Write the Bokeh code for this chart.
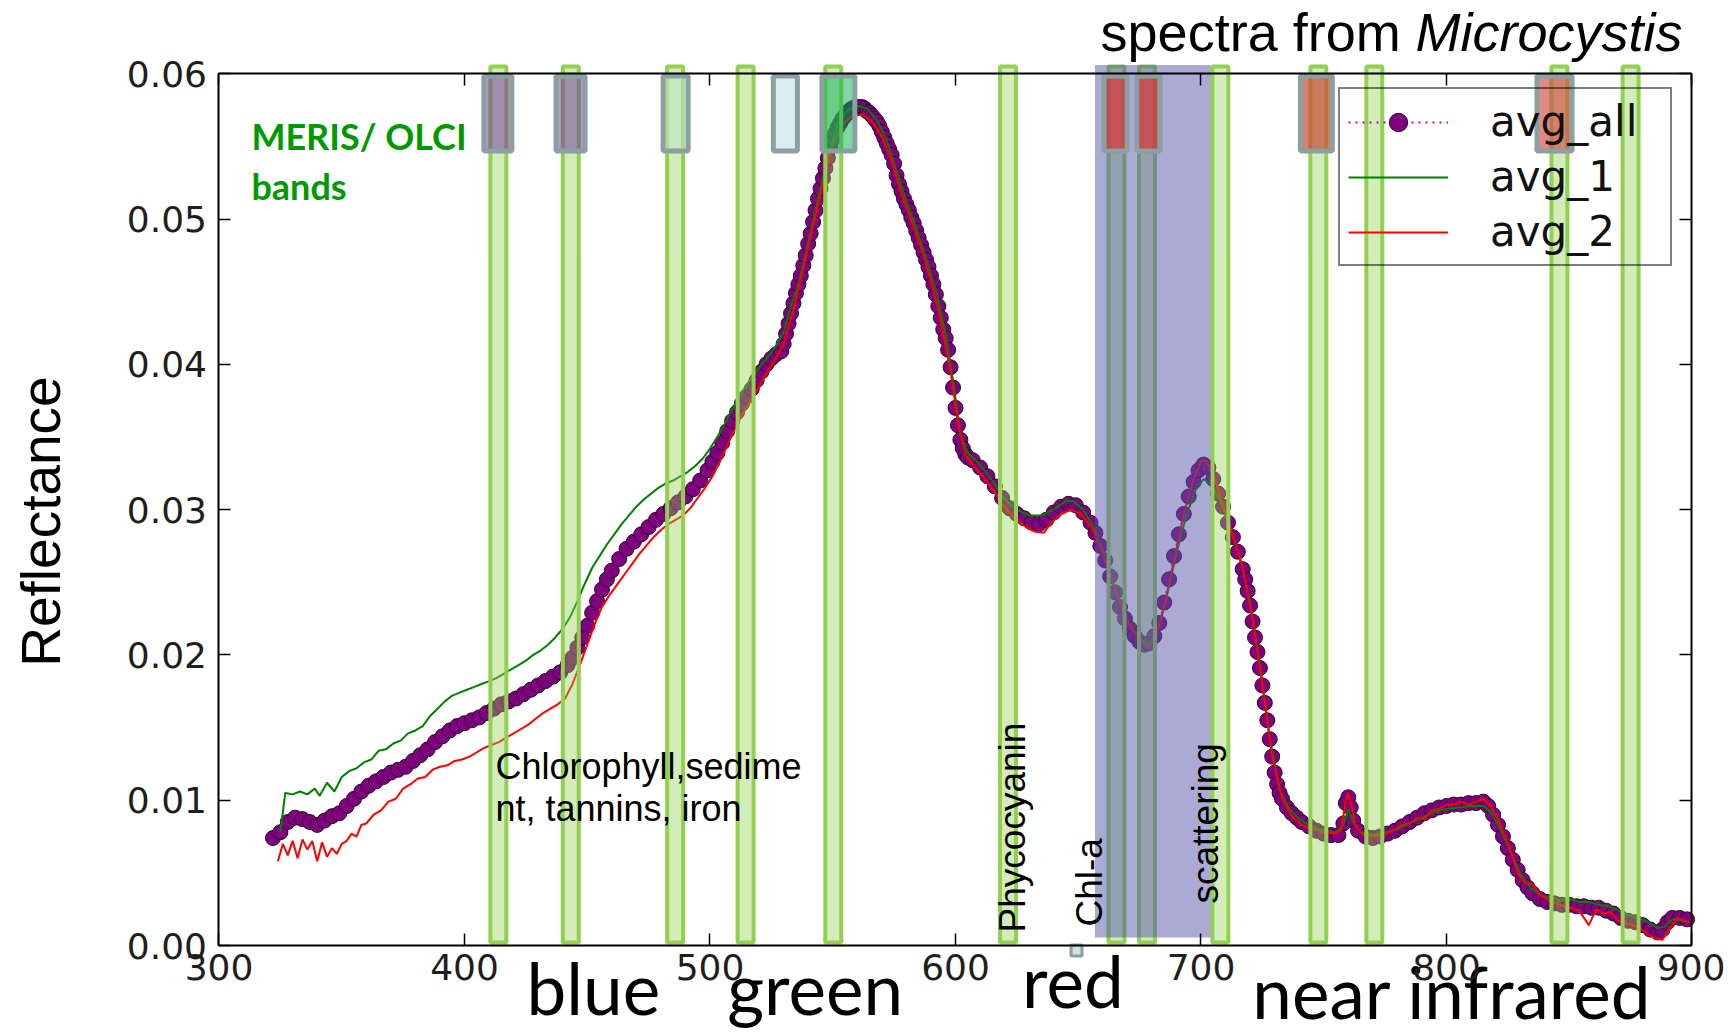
import math
from bokeh.plotting import figure
from bokeh.models import (Range1d, LinearAxis, FixedTicker, PrintfTickFormatter,
                          Legend, LegendItem)
from bokeh.core.properties import value
from bokeh.embed import file_html
from bokeh.resources import INLINE

# ---------------- data ----------------
WL_ALL = [322, 325, 328, 331, 334, 337, 340, 343, 346, 349, 352, 355, 358, 361, 364, 367, 370, 373, 376, 379,
          382, 385, 388, 391, 394, 397, 400, 403, 406, 409, 412, 415, 418, 421, 424, 427, 430, 433, 436, 439,
          442, 444, 446, 448, 450, 452, 454, 456, 458, 460, 463, 466, 469, 472, 475, 478, 481, 484, 487, 490,
          493, 496, 499, 501, 503, 505, 507, 509, 511, 513, 515, 517, 519, 521, 523, 525, 527, 529,
          530, 531, 532, 533, 534, 535, 536, 537, 538, 539, 540, 541, 542, 543, 544, 545, 546, 547, 548, 549,
          550, 551, 552, 553, 554, 555, 556, 557, 558, 559, 560, 561, 562, 563, 564, 565, 566, 567, 568, 569,
          570, 571, 572, 573, 574, 575, 576, 577, 578, 579, 580, 581, 582, 583, 584, 585, 586, 587, 588, 589,
          590, 591, 592, 593, 594, 595, 596, 597, 598, 599, 600, 601, 602, 603, 604, 605,
          607, 610, 613, 616, 619, 622, 625, 628, 631, 634, 637, 640, 643, 646, 649, 652, 655,
          657, 659, 661, 663, 665, 667, 669, 671, 673, 675, 677, 679, 681, 683, 685, 687, 689, 691, 693, 695,
          697, 699, 701, 703, 705, 707, 709, 711, 713, 715, 717, 718, 719, 720, 721, 722, 723, 724, 725, 726,
          727, 728, 729, 730, 731, 732, 733, 735, 737, 739, 741, 744, 747, 750, 753, 756, 758, 759, 760, 761,
          762, 764, 767, 770, 773, 776, 779, 782, 785, 788, 791, 794, 797, 800, 803, 806, 809, 812, 815, 817,
          819, 821, 823, 825, 827, 829, 831, 833, 835, 838, 841, 844, 847, 850, 853, 856, 859, 862, 865, 868,
          871, 874, 877, 880, 883, 886, 888, 890, 892, 895, 898]
REFL_ALL = [.0074, .0078, .0085, .0088, .0087, .0085, .0083, .0086, .0089, .0091, .0096, .0101, .0106, .0110, .0113,
            .0116, .0119, .0121, .0123, .0127, .0131, .0135, .0140, .0144, .0148, .0151, .0153, .0155, .0157, .0160,
            .0163, .0166, .0168, .0170, .0173, .0176, .0179, .0182, .0185, .0188, .0193, .0198, .0205, .0212, .0220,
            .0229, .0237, .0245, .0252, .0258, .0266, .0273, .0278, .0283, .0288, .0293, .0297, .0301, .0305, .0309,
            .0314, .0320, .0327, .0333, .0339, .0346, .0354, .0361, .0367, .0373, .0378, .0383, .0389, .0395, .0400,
            .0404, .0407, .0409,
            .0414, .0421, .0428, .0435, .0442, .0449, .0455, .0461, .0468, .0475, .0483, .0490, .0498, .0506, .0514,
            .0521, .0528, .0535, .0542, .0549, .0555, .0559, .0563, .0566, .0569, .0571, .0573, .0575, .0576, .0577,
            .0577, .0577, .0577, .0576, .0574, .0573, .0571, .0569, .0567, .0564, .0560, .0556, .0552, .0548, .0544,
            .0538, .0530, .0524, .0519, .0514, .0510, .0506, .0501, .0497, .0492, .0487, .0482, .0477, .0472, .0467,
            .0461, .0455, .0448, .0440, .0432, .0424, .0418, .0410, .0398, .0384, .0370, .0358, .0348, .0342, .0338,
            .0336,
            .0334, .0329, .0323, .0316, .0308, .0301, .0297, .0294, .0291, .0290, .0293, .0298, .0302, .0304, .0303,
            .0298, .0291,
            .0284, .0275, .0265, .0254, .0243, .0233, .0225, .0218, .0213, .0209, .0207, .0208, .0213, .0222, .0236,
            .0252, .0268, .0283, .0297, .0309, .0319, .0327, .0331, .0329, .0321, .0311, .0302, .0291, .0281, .0271,
            .0259, .0252, .0244, .0234, .0223, .0212, .0202, .0191, .0179, .0167, .0155, .0142, .0130, .0119, .0111,
            .0105, .0101, .0095, .0091, .0088, .0085, .0082, .0079, .0077, .0076, .0076, .0084, .0098, .0102, .0095,
            .0086, .0079, .0075, .0074, .0075, .0077, .0079, .0082, .0085, .0088, .0091, .0093, .0095, .0096, .0097,
            .0097, .0098, .0098, .0099, .0096, .0090, .0083, .0075, .0067, .0059, .0052, .0045, .0040, .0036, .0032,
            .0030, .0029, .0028, .0028, .0027, .0027, .0026, .0026, .0024, .0022, .0019, .0017, .0016, .0014, .0011,
            .0009, .0011, .0016, .0019, .0019, .0018]

WL_1 = [325, 327, 330, 333, 336, 339, 341, 344, 347, 350, 353, 356, 359, 362, 365, 368, 371, 374, 377, 380,
        383, 386, 389, 392, 395, 398, 401, 404, 407, 410, 413, 416, 419, 422, 425, 428, 431, 434, 437, 440,
        443, 446, 449, 452, 455, 458, 461, 464, 467, 470, 473, 476, 479, 482, 485, 488, 491, 494, 497, 500,
        503, 506, 509, 512, 515, 518, 521, 524, 527, 530, 533, 536, 540, 544, 548, 552, 556, 560, 564, 568,
        572, 576, 580, 584, 588, 592, 596, 599, 602, 605, 610, 615, 620, 625, 630, 635, 640, 645, 648, 652,
        656, 660, 664, 668, 672, 676, 679, 682, 686, 690, 694, 698, 701, 704, 708, 712, 716, 720, 724, 728,
        732, 736, 740, 745, 750, 755, 758, 760, 762, 765, 770, 775, 780, 785, 790, 795, 800, 805, 810, 815,
        818, 822, 826, 830, 834, 838, 842, 846, 850, 854, 858, 862, 866, 870, 874, 878, 882, 886, 889, 892,
        896, 899]
REFL_1 = [.0078, .0105, .0104, .0106, .0104, .0108, .0103, .0112, .0106, .0116, .0120, .0122, .0126, .0128, .0134,
          .0135, .0139, .0141, .0146, .0148, .0151, .0158, .0163, .0168, .0172, .0174, .0176, .0178, .0180, .0182,
          .0184, .0187, .0190, .0193, .0196, .0200, .0203, .0207, .0212, .0218, .0226, .0237, .0249, .0260, .0268,
          .0276, .0283, .0290, .0296, .0302, .0307, .0311, .0315, .0318, .0320, .0323, .0326, .0330, .0335, .0342,
          .0350, .0359, .0369, .0378, .0386, .0393, .0400, .0406, .0413, .0422, .0440, .0455, .0484, .0514, .0543,
          .0565, .0575, .0578, .0576, .0568, .0554, .0533, .0512, .0494, .0473, .0451, .0421, .0389, .0352, .0339,
          .0331, .0320, .0307, .0300, .0296, .0296, .0300, .0306, .0306, .0300, .0289, .0272, .0250, .0232, .0218,
          .0210, .0208, .0214, .0240, .0270, .0296, .0314, .0321, .0318, .0305, .0287, .0266, .0237, .0193, .0143,
          .0107, .0094, .0087, .0082, .0079, .0078, .0083, .0094, .0085, .0078, .0076, .0078, .0080, .0084, .0088,
          .0092, .0094, .0095, .0096, .0096, .0092, .0080, .0065, .0050, .0040, .0035, .0033, .0031, .0032, .0030,
          .0030, .0028, .0027, .0024, .0021, .0019, .0016, .0012, .0013, .0018, .0017, .0016]

WL_2 = [324, 326, 328, 330, 332, 334, 336, 338, 340, 342, 344, 346, 348, 350, 352, 354, 356, 358, 360, 363,
        366, 369, 372, 375, 378, 381, 384, 387, 390, 393, 396, 399, 402, 405, 408, 411, 414, 417, 420, 423,
        426, 429, 432, 435, 438, 441, 444, 447, 450, 453, 456, 459, 462, 465, 468, 471, 474, 477, 480, 483,
        486, 489, 492, 495, 498, 501, 504, 507, 510, 513, 516, 519, 522, 526, 530, 534, 538, 542, 546, 550,
        554, 558, 562, 566, 570, 574, 578, 582, 586, 590, 594, 598, 601, 604, 608, 612, 616, 620, 624, 628,
        632, 636, 639, 643, 647, 651, 655, 659, 663, 667, 671, 675, 678, 681, 685, 689, 693, 697, 700, 702,
        705, 709, 713, 717, 721, 725, 729, 733, 737, 741, 745, 750, 755, 757, 759, 760, 761, 763, 766, 770,
        774, 778, 782, 786, 788, 791, 794, 797, 800, 803, 806, 809, 812, 815, 818, 822, 826, 829, 832, 835,
        838, 842, 846, 850, 854, 858, 861, 864, 867, 870, 874, 878, 882, 885, 888, 891, 894, 897, 899]
REFL_2 = [.0058, .0070, .0062, .0072, .0060, .0073, .0066, .0072, .0058, .0071, .0061, .0067, .0063, .0070, .0072,
          .0077, .0075, .0083, .0084, .0090, .0093, .0099, .0101, .0108, .0111, .0115, .0116, .0121, .0123, .0124,
          .0127, .0128, .0130, .0133, .0136, .0138, .0140, .0143, .0146, .0149, .0152, .0156, .0160, .0163, .0166,
          .0170, .0180, .0193, .0207, .0221, .0233, .0241, .0248, .0255, .0262, .0269, .0275, .0281, .0286, .0290,
          .0293, .0296, .0301, .0308, .0315, .0323, .0333, .0344, .0355, .0365, .0374, .0382, .0391, .0402, .0414,
          .0438, .0466, .0495, .0524, .0551, .0565, .0571, .0572, .0567, .0557, .0540, .0517, .0499, .0480, .0458,
          .0430, .0395, .0360, .0338, .0329, .0321, .0312, .0302, .0294, .0289, .0285, .0284, .0291, .0297, .0300,
          .0297, .0289, .0275, .0255, .0236, .0220, .0210, .0206, .0209, .0233, .0265, .0297, .0321, .0333, .0334,
          .0324, .0303, .0282, .0260, .0225, .0180, .0130, .0102, .0089, .0083, .0080, .0078, .0077, .0079, .0100,
          .0105, .0098, .0082, .0076, .0075, .0076, .0079, .0083, .0085, .0088, .0087, .0093, .0094, .0097, .0097,
          .0099, .0097, .0099, .0101, .0096, .0083, .0066, .0050, .0043, .0042, .0035, .0031, .0028, .0026, .0024,
          .0014, .0025, .0022, .0023, .0017, .0015, .0013, .0008, .0005, .0004, .0012, .0019, .0017, .0016]

SERIES_NAMES = ["avg_all", "avg_1", "avg_2"]

# MERIS / OLCI band centres (nm) and band-box overlays
BAND_CENTRES = [413.8, 443.3, 485.8, 514.5, 550.2, 621.4, 665.6, 678.0, 707.9, 747.8, 770.6, 846.0, 875.0]
BOX_CENTRES = [413.6, 443.2, 486.0, 530.7, 552.3, 665.2, 678.6, 747.0, 844.0]
BOX_WIDTHS_NM = [11.4, 11.8, 10.2, 9.8, 13.4, 9.4, 9.4, 13.0, 14.3]
RED_EDGE_REGION = [656.8, 703.9]
STRAY_MARKER_WL = [649.3]

X_TICKS = [300, 400, 500, 600, 700, 800, 900]
Y_TICKS = [0.00, 0.01, 0.02, 0.03, 0.04, 0.05, 0.06]
X_LIMITS = (300, 900)
Y_LIMITS = (0.0, 0.06)

# ---------------- styles ----------------
BOX_FILLS = ["#7030a0", "#7030a0", "#c2e4c6", "#dcedf2", "#00b050", "#dc3232", "#dc3232", "#cc4a38", "#d24a44"]
BOX_ALPHAS = [0.5, 0.5, 0.6, 1.0, 0.5, 0.7, 0.7, 0.7, 0.65]
TICK_FONT = "DejaVu Sans"
W, H = 1725, 1033

# the frame covers the whole canvas; the axes sit at fixed data locations, bounded to the data box
p = figure(width=W, height=H,
           x_range=Range1d(210.998, 913.65), y_range=Range1d(-0.006056, 0.065038),
           x_axis_type=None, y_axis_type=None,
           output_backend="svg", toolbar_location=None, min_border=0)
p.xgrid.visible = False
p.ygrid.visible = False
p.outline_line_color = None
p.background_fill_color = "white"
p.border_fill_color = "white"


def make_axis(loc, ticks, bounds, labelled, fmt=None):
    ax = LinearAxis(fixed_location=loc, ticker=FixedTicker(ticks=ticks), bounds=bounds,
                    major_tick_in=12, major_tick_out=0, minor_tick_in=0, minor_tick_out=0,
                    axis_line_color="black", axis_line_width=2, major_tick_line_width=1.5,
                    major_label_text_font=TICK_FONT, major_label_text_font_size="36px",
                    major_label_text_color="#1e1e1e")
    if fmt is not None:
        ax.formatter = fmt
    if not labelled:
        ax.major_label_overrides = {t: "" for t in ticks}
    return ax


bottom_ax = make_axis(Y_LIMITS[0], X_TICKS, X_LIMITS, True)
bottom_ax.major_label_standoff = 8
left_ax = make_axis(X_LIMITS[0], Y_TICKS, Y_LIMITS, True, PrintfTickFormatter(format="%.2f"))
left_ax.major_label_standoff = 12
p.add_layout(bottom_ax, "below")
p.add_layout(left_ax, "left")
p.add_layout(make_axis(Y_LIMITS[1], X_TICKS, X_LIMITS, False), "above")
p.add_layout(make_axis(X_LIMITS[1], Y_TICKS, Y_LIMITS, False), "right")

# ---------------- spectra ----------------
r_dot = p.line(WL_ALL, REFL_ALL, line_color="#bf00bf", line_width=2, line_dash="2 5")
r_all = p.scatter(WL_ALL, REFL_ALL, marker="circle", size=15, fill_color="#800080",
                  line_color="#2a0a2a", line_width=1)
r_1 = p.line(WL_1, REFL_1, line_color="#008000", line_width=2)
r_2 = p.line(WL_2, REFL_2, line_color="#ff0000", line_width=2)

# ---------------- band overlays ----------------
p.rect(x=BAND_CENTRES, y=0.03035, width=6.5, height=0.0603,
       fill_color="#92d050", fill_alpha=0.4, line_color="#92d050", line_width=4)
p.quad(left=[RED_EDGE_REGION[0]], right=[RED_EDGE_REGION[1]], bottom=[0.00055], top=[0.0606],
       fill_color="#5555aa", fill_alpha=0.5, line_color=None)
p.rect(x=BOX_CENTRES, y=0.05726, width=BOX_WIDTHS_NM, height=0.00516,
       fill_color=BOX_FILLS, fill_alpha=BOX_ALPHAS, line_color="#8aa0a2", line_width=5)
p.scatter(x=STRAY_MARKER_WL, y=[-0.00034], marker="square", size=11,
          fill_color="#d0e0e0", line_color="#8aa0a2", line_width=3)

# legend: transparent background so that the band overlays show through it
legend = Legend(items=[LegendItem(label=SERIES_NAMES[0], renderers=[r_dot, r_all]),
                       LegendItem(label=SERIES_NAMES[1], renderers=[r_1]),
                       LegendItem(label=SERIES_NAMES[2], renderers=[r_2])],
                location=(1338, H - 266), orientation="vertical",
                padding=8, spacing=6, margin=0,
                glyph_width=100, glyph_height=46, label_height=46, label_width=172,
                label_standoff=42,
                label_text_font=TICK_FONT, label_text_font_size="42px", label_text_color="#111111",
                border_line_color="black", border_line_width=2,
                background_fill_color="white", background_fill_alpha=0.0)
p.add_layout(legend)


def txt(x, y, s, font, size, color="black", style="normal", angle=0.0, align="left"):
    p.text(x=[x], y=[y], text=[s], angle=angle, text_font=value(font), text_font_style=style,
           text_font_size=size, text_color=color, text_align=align, text_baseline="alphabetic")


# ---------------- texts ----------------
txt(313.2, 0.05572, "MERIS/ OLCI", "Lato", "36px", "#009a00", "bold")
txt(313.2, 0.05228, "bands", "Lato", "36px", "#009a00", "bold")
txt(412.6, 0.01232, "Chlorophyll,sedime", "Liberation Sans", "36px")
txt(412.6, 0.00942, "nt, tannins, iron", "Liberation Sans", "36px")
txt(623.2, 0.0009, "Phycocyanin", "Liberation Sans", "37px", angle=math.pi / 2)
txt(654.6, 0.00131, "Chl-a", "Liberation Sans", "37px", angle=math.pi / 2)
txt(701.8, 0.00289, "scattering", "Liberation Sans", "37px", angle=math.pi / 2)

txt(659.1, 0.0629, "spectra from ", "Liberation Sans", "54px")
txt(787.4, 0.0629, "Microcystis", "Liberation Sans", "54px", style="italic")
txt(227.6, 0.02918, "Reflectance", "Liberation Sans", "55px", angle=math.pi / 2, align="center")
txt(425.3, -0.0029, "blue", "Lato", "71px")
txt(507.0, -0.0029, "green", "Lato", "71px")
txt(627.1, -0.00242, "red", "Lato", "71px")
txt(720.9, -0.00318, "near infrared", "Lato", "71px")

open("out.html", "w").write(file_html(p, INLINE))
